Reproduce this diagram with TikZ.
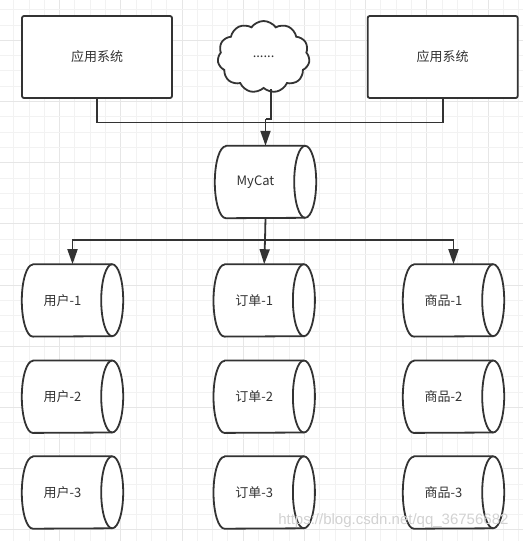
\documentclass[tikz,border=0pt]{standalone}
\usepackage{fontspec}
\setmainfont{Noto Sans CJK SC}
\newfontfamily\wmfont{Liberation Sans}
\usetikzlibrary{shapes.geometric,shapes.symbols,arrows.meta}
\definecolor{ln}{HTML}{333333}
\definecolor{txt}{HTML}{333333}
\definecolor{gminor}{HTML}{F2F2F2}
\definecolor{gmajor}{HTML}{E6E6E6}
\tikzset{
  appbox/.style={draw=ln,line width=1.8pt,rounded corners=2pt,fill=white,minimum width=150pt,minimum height=82pt,inner sep=0pt,text=txt,font=\fontsize{13}{15}\selectfont},
  dbcyl/.style={rectangle,minimum width=101pt,minimum height=72pt,inner sep=0pt},
  cyltext/.style={text=txt,font=\fontsize{13}{15}\selectfont,xshift=-10pt},
  cylline/.style={draw=ln,line width=1.8pt,fill=white,line join=round},
  conn/.style={draw=ln,line width=1.8pt},
  arr/.style={conn,-{Triangle[length=15pt,width=10pt]}},
}
\newcommand\drawdbcyl[1]{%
  \filldraw[cylline] ([xshift=11pt]#1.north west) -- ([xshift=-11pt]#1.north east)
     arc[start angle=90,end angle=-90,x radius=11pt,y radius=36pt]
     -- ([xshift=11pt]#1.south west)
     arc[start angle=270,end angle=90,x radius=11pt,y radius=36pt] -- cycle;
  \draw[cylline,fill=none] ([xshift=-11pt]#1.north east)
     arc[start angle=90,end angle=270,x radius=11pt,y radius=36pt];
}
\begin{document}
\begin{tikzpicture}[x=1pt,y=-1pt]
\useasboundingbox (0,0) rectangle (523,541);
\fill[white] (0,0) rectangle (523,541);
% grid
\foreach \k in {0,...,35}{
  \pgfmathsetmacro{\xx}{-1.6+15.3*\k}
  \pgfmathtruncatemacro{\m}{mod(\k,4)}
  \ifnum\m=0 \draw[gmajor,line width=1pt] (\xx,0) -- (\xx,541);
  \else \draw[gminor,line width=1pt] (\xx,0) -- (\xx,541); \fi
}
\foreach \k in {0,...,35}{
  \pgfmathsetmacro{\yy}{9.7+15.3*\k}
  \pgfmathtruncatemacro{\m}{mod(\k,4)}
  \ifnum\m=2 \draw[gmajor,line width=1pt] (0,\yy) -- (523,\yy);
  \else \draw[gminor,line width=1pt] (0,\yy) -- (523,\yy); \fi
}
% top row
\node[appbox] (app1) at (97,57) {应用系统};
\node[appbox] (app2) at (442.7,57) {应用系统};
\node[cloud,cloud puffs=11,cloud puff arc=110,aspect=1.25,draw=ln,line width=1.8pt,fill=white,minimum width=92pt,minimum height=72pt,inner sep=0pt,text=txt,font=\fontsize{13}{15}\selectfont] (cloud) at (263.6,57) {......};
% MyCat
\node[dbcyl] (mycat) at (265.5,182) {};
\drawdbcyl{mycat}
\node[cyltext] (mycatt) at (mycat.center) {MyCat};
% databases
\foreach \c/\x/\t in {u/72.5/用户,o/264.2/订单,p/453.5/商品}{
  \node[dbcyl] (\c1) at (\x,300.4) {};
  \node[dbcyl] (\c2) at (\x,396.7) {};
  \node[dbcyl] (\c3) at (\x,492.5) {};
  \drawdbcyl{\c1}\drawdbcyl{\c2}\drawdbcyl{\c3}
  \node[cyltext] (\c1t) at (\c1.center) {\t-1};
  \node[cyltext] (\c2t) at (\c2.center) {\t-2};
  \node[cyltext] (\c3t) at (\c3.center) {\t-3};
}
% connectors top
\coordinate (mid) at (265,122.5);
\coordinate (cj) at (265.5,119);
\draw[conn] (app1.south) |- (mid) -| (app2.south);
\draw[conn] ([xshift=7.5pt]cloud.south) |- (cj);
\draw[arr] (cj) -- (mycat.north);
% connectors bottom
\coordinate (split) at (265,240);
\draw[conn] (mycat.south) -- (split);
\draw[arr] (split) -| (u1.north);
\draw[arr] (split) -- (o1.north);
\draw[arr] (split) -| (p1.north);
% watermark
\node[text=gray!35,font=\wmfont\fontsize{15}{17}\selectfont,anchor=east] (wm) at (512,521) {https://blog.csdn.net/qq\_36756682};
\end{tikzpicture}
\end{document}
